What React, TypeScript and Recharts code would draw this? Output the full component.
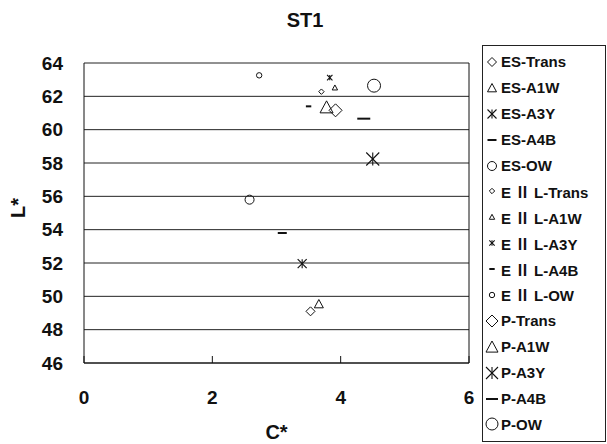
import React from 'react';
import {
  ScatterChart,
  Scatter,
  XAxis,
  YAxis,
  CartesianGrid,
  ReferenceLine,
} from 'recharts';

// ---- data ----
const groups = ['ES', 'EⅡL', 'P'];
const treatments = ['Trans', 'A1W', 'A3Y', 'A4B', 'OW'];
const markerKinds = ['diamond', 'triangle', 'star', 'dash', 'circle'];

const esC = [3.53, 3.66, 3.40, 3.09, 2.58];
const esL = [49.1, 49.54, 51.96, 53.8, 55.8];

const e2lC = [3.70, 3.91, 3.83, 3.50, 2.73];
const e2lL = [62.28, 62.52, 63.12, 61.4, 63.26];

const pC = [3.92, 3.78, 4.50, 4.36, 4.52];
const pL = [61.16, 61.34, 58.24, 60.66, 62.64];

const xTicks = [0, 2, 4, 6];
const yTicks = [46, 48, 50, 52, 54, 56, 58, 60, 62, 64];

const groupC = [esC, e2lC, pC];
const groupL = [esL, e2lL, pL];
const groupSize = [4.5, 2.7, 6.5];

const FONT = '"Liberation Sans", Arial, sans-serif';

type Kind = string;

function Marker({ kind, cx, cy, s }: { kind: Kind; cx: number; cy: number; s: number }) {
  const stroke = '#111';
  if (kind === 'diamond') {
    return (
      <polygon
        points={`${cx},${cy - s} ${cx + s},${cy} ${cx},${cy + s} ${cx - s},${cy}`}
        fill="none"
        stroke={stroke}
        strokeWidth={1}
      />
    );
  }
  if (kind === 'triangle') {
    return (
      <polygon
        points={`${cx},${cy - s} ${cx + s},${cy + s * 0.85} ${cx - s},${cy + s * 0.85}`}
        fill="none"
        stroke={stroke}
        strokeWidth={1}
      />
    );
  }
  if (kind === 'star') {
    return (
      <g stroke={stroke} strokeWidth={1.1}>
        <line x1={cx - s} y1={cy - s} x2={cx + s} y2={cy + s} />
        <line x1={cx - s} y1={cy + s} x2={cx + s} y2={cy - s} />
        <line x1={cx} y1={cy - s} x2={cx} y2={cy + s} />
      </g>
    );
  }
  if (kind === 'dash') {
    return <line x1={cx - s} y1={cy} x2={cx + s} y2={cy} stroke={stroke} strokeWidth={2} />;
  }
  return <circle cx={cx} cy={cy} r={s} fill="none" stroke={stroke} strokeWidth={1} />;
}

type SeriesDef = { group: string; treat: string; name: string; kind: Kind; size: number; data: { c: number; l: number }[] };

const series: SeriesDef[] = [];
groups.forEach((g, gi) => {
  treatments.forEach((t, ti) => {
    series.push({
      group: g,
      treat: t,
      name: `${g}-${t}`,
      kind: markerKinds[ti],
      size: groupSize[gi],
      data: [{ c: groupC[gi][ti], l: groupL[gi][ti] }],
    });
  });
});

const XTick = (props: any) => {
  const { x, y, payload } = props;
  return (
    <g>
      <line x1={x} y1={y} x2={x} y2={y - 7} stroke="#111" strokeWidth={1} />
      <text
        x={x}
        y={y + 41}
        textAnchor="middle"
        fontFamily={FONT}
        fontWeight="bold"
        fontSize={19}
        fill="#111"
      >
        {payload.value}
      </text>
    </g>
  );
};

function LegendLabel({ group, treat }: { group: string; treat: string }) {
  if (group.includes('Ⅱ')) {
    return (
      <span>
        E
        <span style={{ fontFamily: '"Noto Sans CJK JP", serif', margin: '0 4px' }}>Ⅱ</span>
        L-{treat}
      </span>
    );
  }
  return <span>{`${group}-${treat}`}</span>;
}

const LegendBox = () => (
  <div
    style={{
      position: 'absolute',
      left: 482,
      top: 45,
      width: 124,
      height: 397,
      border: '1px solid #222',
      boxSizing: 'border-box',
      paddingTop: 3,
      background: '#fff',
    }}
  >
    {series.map((s) => (
      <div
        key={s.name}
        style={{
          height: 25.9,
          display: 'flex',
          alignItems: 'center',
          fontFamily: FONT,
          fontWeight: 'bold',
          fontSize: 15,
          color: '#111',
          whiteSpace: 'nowrap',
        }}
      >
        <svg width={16} height={20} style={{ marginLeft: 1, marginRight: 1, flex: 'none' }}>
          <Marker kind={s.kind} cx={8} cy={10} s={Math.min(s.size, 6)} />
        </svg>
        <LegendLabel group={s.group} treat={s.treat} />
      </div>
    ))}
  </div>
);

export default function App() {
  return (
    <div
      style={{
        position: 'absolute',
        left: 0,
        top: 0,
        width: 607,
        height: 444,
        background: '#fff',
      }}
    >
      <ScatterChart
        width={607}
        height={444}
        margin={{ top: 63, right: 138, bottom: 0, left: 20 }}
      >
        <CartesianGrid horizontal vertical={false} stroke="#222" strokeWidth={1} />
        <XAxis
          type="number"
          dataKey="c"
          domain={[0, 6]}
          ticks={xTicks}
          interval={0}
          height={81}
          axisLine={{ stroke: '#111' }}
          tickLine={false}
          tickSize={0}
          tickMargin={0}
          tick={<XTick />}
          label={{
            value: 'C*',
            position: 'insideBottom',
            offset: 5,
            style: { fontFamily: FONT, fontWeight: 'bold', fontSize: 20, fill: '#111' },
          }}
        />
        <YAxis
          type="number"
          dataKey="l"
          domain={[46, 64]}
          ticks={yTicks}
          interval={0}
          width={64}
          axisLine={{ stroke: '#111' }}
          tickLine={false}
          tickSize={0}
          tickMargin={21}
          tick={{ fontFamily: FONT, fontWeight: 'bold', fontSize: 19, fill: '#111' }}
        />
        <ReferenceLine x={6} stroke="#111" />
        {series.map((s) => (
          <Scatter
            key={s.name}
            name={s.name}
            data={s.data}
            isAnimationActive={false}
            shape={(p: any) => <Marker kind={s.kind} cx={p.cx} cy={p.cy} s={s.size} />}
          />
        ))}
      </ScatterChart>
      <div
        style={{
          position: 'absolute',
          left: 255,
          top: 9,
          width: 100,
          lineHeight: '22px',
          textAlign: 'center',
          fontFamily: FONT,
          fontWeight: 'bold',
          fontSize: 20,
          color: '#111',
        }}
      >
        ST1
      </div>
      <div
        style={{
          position: 'absolute',
          left: -2,
          top: 197,
          width: 40,
          lineHeight: '22px',
          textAlign: 'center',
          fontFamily: FONT,
          fontWeight: 'bold',
          fontSize: 20,
          color: '#111',
          transform: 'rotate(-90deg)',
        }}
      >
        L*
      </div>
      <LegendBox />
    </div>
  );
}
